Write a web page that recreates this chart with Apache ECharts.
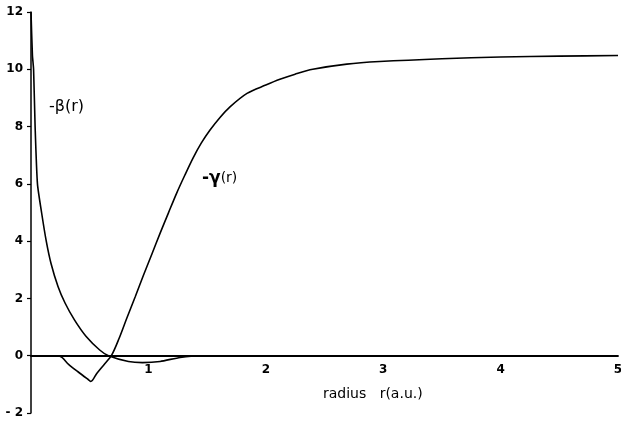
<!DOCTYPE html>
<html>
<head>
<meta charset="utf-8">
<script src="https://cdn.jsdelivr.net/npm/echarts@6/dist/echarts.min.js"></script>
<style>html,body{margin:0;padding:0;background:#fff}#c{width:621px;height:421px}</style>
</head>
<body>
<div id="c"></div>
<script>
// -gamma(r): [r, value]
var gammaData = [[0,0],[0.15,0],[0.245,-0.02],[0.32,-0.3],[0.40,-0.56],[0.49,-0.84],[0.51,-0.9],[0.56,-0.62],[0.62,-0.32],[0.687,0.02],[0.75,0.6],[0.815,1.3],[0.887,2.05],[0.957,2.8],[1.03,3.55],[1.10,4.28],[1.17,4.98],[1.24,5.67],[1.31,6.3],[1.38,6.9],[1.45,7.42],[1.525,7.88],[1.61,8.32],[1.695,8.69],[1.84,9.16],[2.0,9.45],[2.12,9.65],[2.25,9.83],[2.40,10.0],[2.69,10.18],[2.97,10.27],[3.5,10.37],[4.0,10.43],[4.5,10.46],[5,10.48]];
// -beta(r): [r, value]
var betaData = [[0,12],[0.012,10.5],[0.022,10],[0.035,8],[0.055,6],[0.09,5],[0.13,4],[0.17,3.23],[0.23,2.42],[0.29,1.84],[0.37,1.25],[0.47,0.67],[0.585,0.2],[0.66,0],[0.83,-0.2],[0.95,-0.24],[1.1,-0.2],[1.27,-0.06],[1.44,0],[5,0]];
var xTicks = [0,1,2,3,4,5];
var yTicks = [-2,0,2,4,6,8,10,12];

var chart = echarts.init(document.getElementById('c'));
var tickFont = {color:'#000', fontFamily:'DejaVu Sans', fontWeight:'bold', fontSize:12};
chart.setOption({
  animation:false,
  backgroundColor:'#fff',
  grid:{left:31, right:3, top:12, bottom:8, outerBoundsMode:'none', containLabel:false},
  xAxis:{type:'value', min:0, max:5, interval:1,
    axisLine:{onZero:true, lineStyle:{color:'#000', width:1.8}},
    axisTick:{show:false},
    axisLabel:Object.assign({margin:-49, formatter:function(v){return v===0?'':String(v);}}, tickFont),
    splitLine:{show:false}},
  yAxis:{type:'value', min:-2, max:12, interval:2,
    axisLine:{show:true, onZero:false, lineStyle:{color:'#000', width:1.5}},
    axisTick:{show:true, length:4, lineStyle:{color:'#000', width:1.2}},
    axisLabel:Object.assign({margin:8, formatter:function(v){return v<0?'- '+Math.abs(v):String(v);}}, tickFont),
    splitLine:{show:false}},
  series:[
    {type:'line', data:gammaData, smooth:0.3, showSymbol:false, lineStyle:{color:'#000', width:1.6}},
    {type:'line', data:betaData, smooth:0.2, showSymbol:false, lineStyle:{color:'#000', width:1.6}}
  ],
  graphic:[
    {type:'text', left:49, top:99, style:{text:'-β(r)', fill:'#000', font:'16px "DejaVu Sans"'}},
    {type:'text', left:202, top:170, style:{rich:{a:{font:'bold 17px "DejaVu Sans"', fill:'#000'}, b:{font:'14px "DejaVu Sans"', fill:'#000'}}, text:'{a|-γ}{b|(r)}'}},
    {type:'text', left:323, top:387, style:{text:'radius   r(a.u.)', fill:'#000', font:'14px "DejaVu Sans"'}}
  ]
});
</script>
</body>
</html>
